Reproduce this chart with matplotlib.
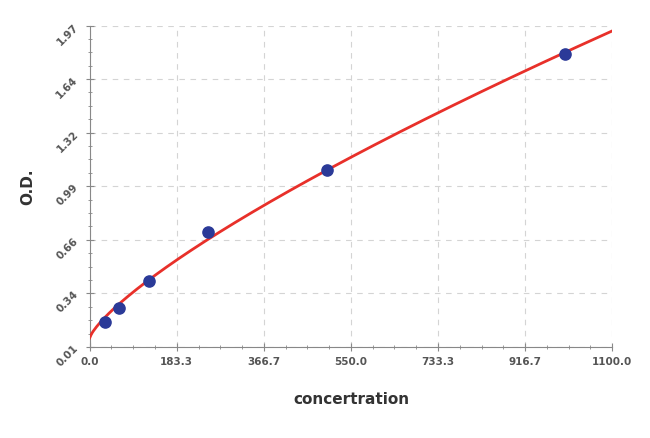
import numpy as np
import matplotlib
matplotlib.use("Agg")
import matplotlib.pyplot as plt
from matplotlib.ticker import AutoMinorLocator

# standard curve points
conc = [31.25, 62.5, 125, 250, 500, 1000]
od = [0.16, 0.25, 0.41, 0.71, 1.09, 1.80]
blank_od = 0.065  # curve value at zero concentration

x_ticks = [0.0, 183.3, 366.7, 550.0, 733.3, 916.7, 1100.0]
x_labels = ["0.0", "183.3", "366.7", "550.0", "733.3", "916.7", "1100.0"]
y_ticks = [0.01, 0.337, 0.663, 0.99, 1.317, 1.643, 1.97]
y_labels = ["0.01", "0.34", "0.66", "0.99", "1.32", "1.64", "1.97"]

# fitted curve: od = blank + a * conc^b  (least squares, grid over b)
xc = np.array(conc)
yc = np.array(od) - blank_od
best = None
for b in np.linspace(0.5, 1.1, 241):
    xb = xc ** b
    a = np.sum(xb * yc) / np.sum(xb * xb)
    err = np.sum((a * xb - yc) ** 2)
    if best is None or err < best[0]:
        best = (err, a, b)
_, a_fit, b_fit = best
xf = np.linspace(0, 1100, 300)
yf = blank_od + a_fit * xf ** b_fit

fig = plt.figure(figsize=(6.5, 4.38), dpi=100)
ax = fig.add_axes([0.138, 0.208, 0.804, 0.733])

ax.plot(xf, yf, color="#e8302a", lw=2, zorder=3)
ax.scatter(conc, od, s=65, color="#2b3a98", zorder=4)

ax.set_xlim(0, 1100)
ax.set_ylim(0.01, 1.97)
ax.set_xticks(x_ticks)
ax.set_xticklabels(x_labels)
ax.set_yticks(y_ticks)
ax.set_yticklabels(y_labels, rotation=45)
ax.xaxis.set_minor_locator(AutoMinorLocator(4))
ax.yaxis.set_minor_locator(AutoMinorLocator(4))

for lab in ax.get_xticklabels() + ax.get_yticklabels():
    lab.set_fontweight("bold")
    lab.set_fontsize(7.5)
    lab.set_color("#555555")

ax.tick_params(which="major", direction="inout", length=6, color="#888888", pad=4)
ax.tick_params(which="minor", direction="inout", length=3, color="#888888")

ax.grid(True, which="major", linestyle=(0, (5, 5)), color="#d4d4d4", lw=0.8)
for s in ["top", "right"]:
    ax.spines[s].set_visible(False)
for s in ["left", "bottom"]:
    ax.spines[s].set_color("#888888")

ax.set_xlabel("concertration", fontsize=11, fontweight="bold", color="#333333", labelpad=18)
ax.set_ylabel("O.D.", fontsize=11, fontweight="bold", color="#333333", labelpad=14)

plt.savefig("out.png")
plt.close()
